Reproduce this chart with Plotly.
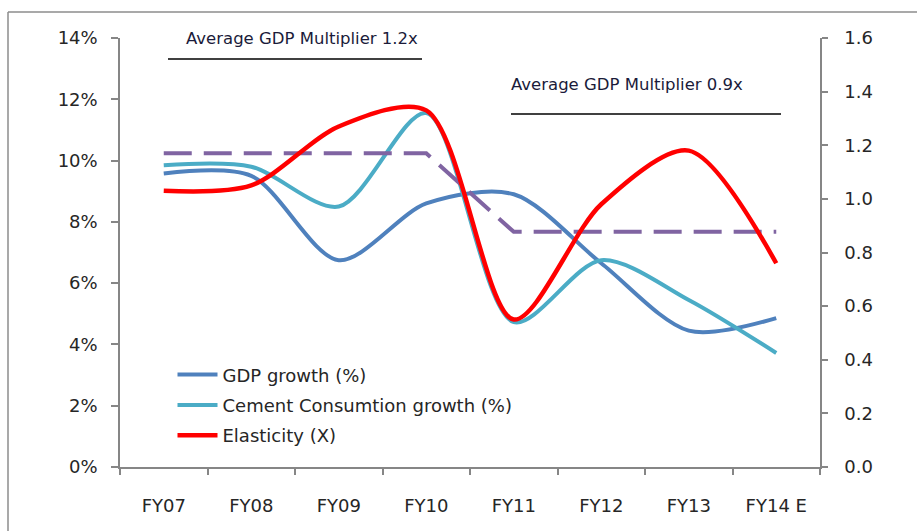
import plotly.graph_objects as go

categories = ["FY07", "FY08", "FY09", "FY10", "FY11", "FY12", "FY13", "FY14 E"]
gdp_growth = [9.58, 9.5, 6.75, 8.6, 8.9, 6.65, 4.45, 4.86]
cement_growth = [9.85, 9.8, 8.5, 11.55, 4.73, 6.75, 5.45, 3.72]
elasticity = [1.03, 1.05, 1.27, 1.33, 0.55, 0.98, 1.18, 0.76]
avg_multiplier = [1.17, 1.17, 1.17, 1.17, 0.877, 0.877, 0.877, 0.877]

left_ticks = [0, 2, 4, 6, 8, 10, 12, 14]
right_ticks = [0.0, 0.2, 0.4, 0.6, 0.8, 1.0, 1.2, 1.4, 1.6]

FONT = "DejaVu Sans"
SM = 0.85
fig = go.Figure()

fig.add_trace(go.Scatter(x=categories, y=avg_multiplier, yaxis="y2", mode="lines",
                         line=dict(color="#8064A2", width=4, dash="28px,12px"),
                         showlegend=False, hoverinfo="skip"))
fig.add_trace(go.Scatter(x=categories, y=gdp_growth, name="GDP growth (%)", mode="lines",
                         legendgroup="a",
                         line=dict(color="#4F81BD", width=4, shape="spline", smoothing=SM)))
fig.add_trace(go.Scatter(x=categories, y=cement_growth, name="Cement Consumtion growth (%)", mode="lines",
                         legendgroup="b",
                         line=dict(color="#4BACC6", width=4, shape="spline", smoothing=SM)))
fig.add_trace(go.Scatter(x=categories, y=elasticity, name="Elasticity (X)", yaxis="y2", mode="lines",
                         legendgroup="c",
                         line=dict(color="#FF0000", width=4.5, shape="spline", smoothing=SM)))

axis_col = "#868686"
fig.update_layout(
    width=917, height=531,
    margin=dict(l=120, r=97, t=38, b=64),
    paper_bgcolor="white", plot_bgcolor="white",
    font=dict(family=FONT, size=18, color="#262626"),
    xaxis=dict(type="category", range=[-0.5, 7.5], showline=True, linecolor=axis_col, linewidth=1.5,
               ticks="outside", tickson="boundaries", ticklen=6, tickcolor=axis_col, tickwidth=1.5,
               showgrid=False, zeroline=False, tickfont=dict(size=18), ticklabelstandoff=22,
               automargin=False),
    yaxis=dict(range=[0, 14], tickvals=left_ticks, ticktext=[f"{v}%" for v in left_ticks],
               showline=True, linecolor=axis_col, linewidth=1.5, ticks="outside", ticklen=7,
               tickcolor=axis_col, tickwidth=1.5, showgrid=False, zeroline=False,
               tickfont=dict(size=18), ticklabelstandoff=10, automargin=False),
    yaxis2=dict(range=[0, 1.6], tickvals=right_ticks, ticktext=[f"{v:.1f}" for v in right_ticks],
                overlaying="y", side="right", showline=True, linecolor=axis_col, linewidth=1.5,
                ticks="outside", ticklen=6, tickcolor=axis_col, tickwidth=1.5, showgrid=False,
                zeroline=False, tickfont=dict(size=18), ticklabelstandoff=13, automargin=False),
    legend=dict(x=0.075, y=0.258, xanchor="left", yanchor="top", bgcolor="rgba(0,0,0,0)",
                font=dict(size=18, family=FONT), tracegroupgap=4, itemwidth=40,
                traceorder="grouped"),
    showlegend=True,
)

# Average multiplier labels and underline
fig.add_annotation(xref="paper", yref="paper", x=(184 - 120) / 700, y=(467 - 38) / 429,
                   xanchor="left", yanchor="middle", showarrow=False,
                   text="Average GDP Multiplier 1.2x", font=dict(size=16.5, color="#1b1b3a", family=FONT))
fig.add_annotation(xref="paper", yref="paper", x=(509 - 120) / 700, y=(467 - 85) / 429,
                   xanchor="left", yanchor="middle", showarrow=False,
                   text="Average GDP Multiplier 0.9x", font=dict(size=16.5, color="#1b1b3a", family=FONT))
fig.add_shape(type="line", xref="paper", yref="paper", x0=(168 - 120) / 700, x1=(422 - 120) / 700,
              y0=(467 - 59) / 429, y1=(467 - 59) / 429, line=dict(color="black", width=1.5))
fig.add_shape(type="line", xref="paper", yref="paper", x0=(511 - 120) / 700, x1=(781 - 120) / 700,
              y0=(467 - 114) / 429, y1=(467 - 114) / 429, line=dict(color="black", width=1.5))

# outer chart border (left and top edges visible)
fig.add_shape(type="line", xref="paper", yref="paper", x0=(8 - 120) / 700, x1=(917 - 120) / 700,
              y0=(467 - 12) / 429, y1=(467 - 12) / 429, line=dict(color="#8c8c8c", width=1.5))
fig.add_shape(type="line", xref="paper", yref="paper", x0=(8 - 120) / 700, x1=(8 - 120) / 700,
              y0=(467 - 12) / 429, y1=(467 - 531) / 429, line=dict(color="#8c8c8c", width=1.5))

fig.write_html("out.html", config={"displayModeBar": False},
               post_script="document.body.style.margin='0';")
